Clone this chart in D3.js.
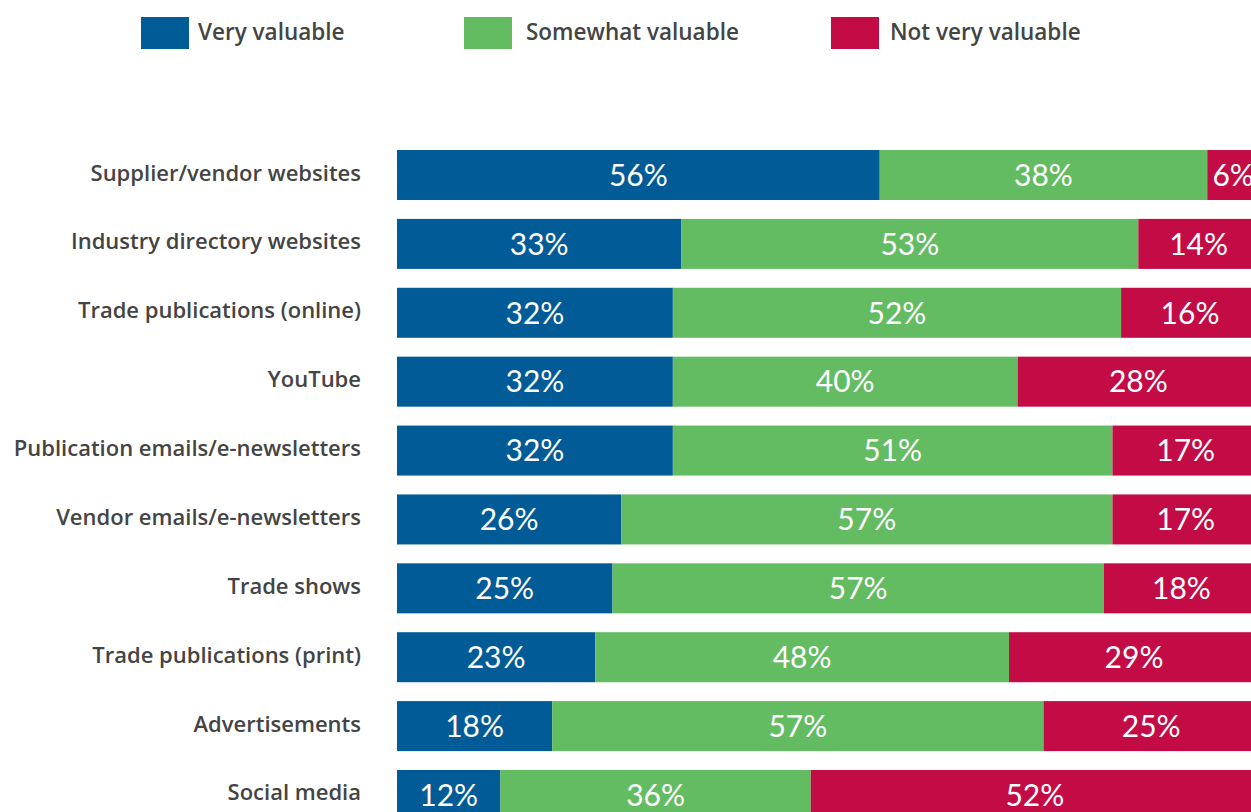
<!DOCTYPE html>
<html>
<head>
<meta charset="utf-8">
<script src="https://cdn.jsdelivr.net/npm/d3@7"></script>
<style>
  html, body { margin: 0; padding: 0; background: #fff; overflow: hidden; }
  svg { display: block; }
</style>
</head>
<body>
<svg id="chart" width="1251" height="812"></svg>
<script>
// Sources of information, share of respondents by rated value
const categories = [
  "Supplier/vendor websites",
  "Industry directory websites",
  "Trade publications (online)",
  "YouTube",
  "Publication emails/e-newsletters",
  "Vendor emails/e-newsletters",
  "Trade shows",
  "Trade publications (print)",
  "Advertisements",
  "Social media"
];
const seriesNames = ["Very valuable", "Somewhat valuable", "Not very valuable"];
const veryValuable     = [56, 33, 32, 32, 32, 26, 25, 23, 18, 12];
const somewhatValuable = [38, 53, 52, 40, 51, 57, 57, 48, 57, 36];
const notVeryValuable  = [ 6, 14, 16, 28, 17, 17, 18, 29, 25, 52];
const colors = ["#005B96", "#63BC62", "#C30B46"];

const rows = categories.map((c, i) => ({
  category: c,
  [seriesNames[0]]: veryValuable[i],
  [seriesNames[1]]: somewhatValuable[i],
  [seriesNames[2]]: notVeryValuable[i]
}));

const svg = d3.select("#chart");
const labelFont = "'Open Sans', sans-serif";
const valueFont = "Lato, sans-serif";

const x = d3.scaleLinear().domain([0, 100]).range([397, 1259]);
const y = d3.scaleBand().domain(categories).range([150, 820]).paddingInner(0.274).paddingOuter(0);
const color = d3.scaleOrdinal().domain(seriesNames).range(colors);

const stacked = d3.stack().keys(seriesNames)(rows);

// Bars
const layers = svg.append("g").selectAll("g")
  .data(stacked)
  .join("g")
  .attr("fill", d => color(d.key));

layers.selectAll("rect")
  .data(d => d)
  .join("rect")
  .attr("x", d => x(d[0]))
  .attr("y", d => y(d.data.category))
  .attr("width", d => x(d[1]) - x(d[0]))
  .attr("height", y.bandwidth());

// Value labels inside segments
svg.append("g").selectAll("g")
  .data(stacked)
  .join("g")
  .selectAll("text")
  .data(d => d)
  .join("text")
  .attr("x", d => (x(d[0]) + x(d[1])) / 2)
  .attr("y", d => y(d.data.category) + y.bandwidth() / 2)
  .attr("dy", "0.36em")
  .attr("text-anchor", "middle")
  .attr("fill", "#fff")
  .attr("font-family", valueFont)
  .attr("font-size", 30)
  .attr("font-weight", 400)
  .text(d => (d[1] - d[0]) + "%");

// Category axis
const yAxis = svg.append("g")
  .attr("transform", "translate(361,0)")
  .call(d3.axisLeft(y).tickSize(0).tickPadding(0));
yAxis.select(".domain").remove();
yAxis.selectAll("text")
  .attr("font-family", labelFont)
  .attr("font-size", 22)
  .attr("font-weight", 600)
  .attr("fill", "#444")
  .attr("dy", "0.25em");

// Legend
const legendX = [141, 464, 831];
const legend = svg.append("g").selectAll("g")
  .data(seriesNames)
  .join("g")
  .attr("transform", (d, i) => `translate(${legendX[i]},17)`);
legend.append("rect")
  .attr("width", 48)
  .attr("height", 32)
  .attr("fill", d => color(d));
legend.append("text")
  .attr("x", (d, i) => i === 2 ? 59 : (i === 1 ? 62 : 57))
  .attr("y", 15)
  .attr("dy", "0.35em")
  .attr("font-family", labelFont)
  .attr("font-size", 22.5)
  .attr("font-weight", 600)
  .attr("fill", "#444")
  .text(d => d);
</script>
</body>
</html>
